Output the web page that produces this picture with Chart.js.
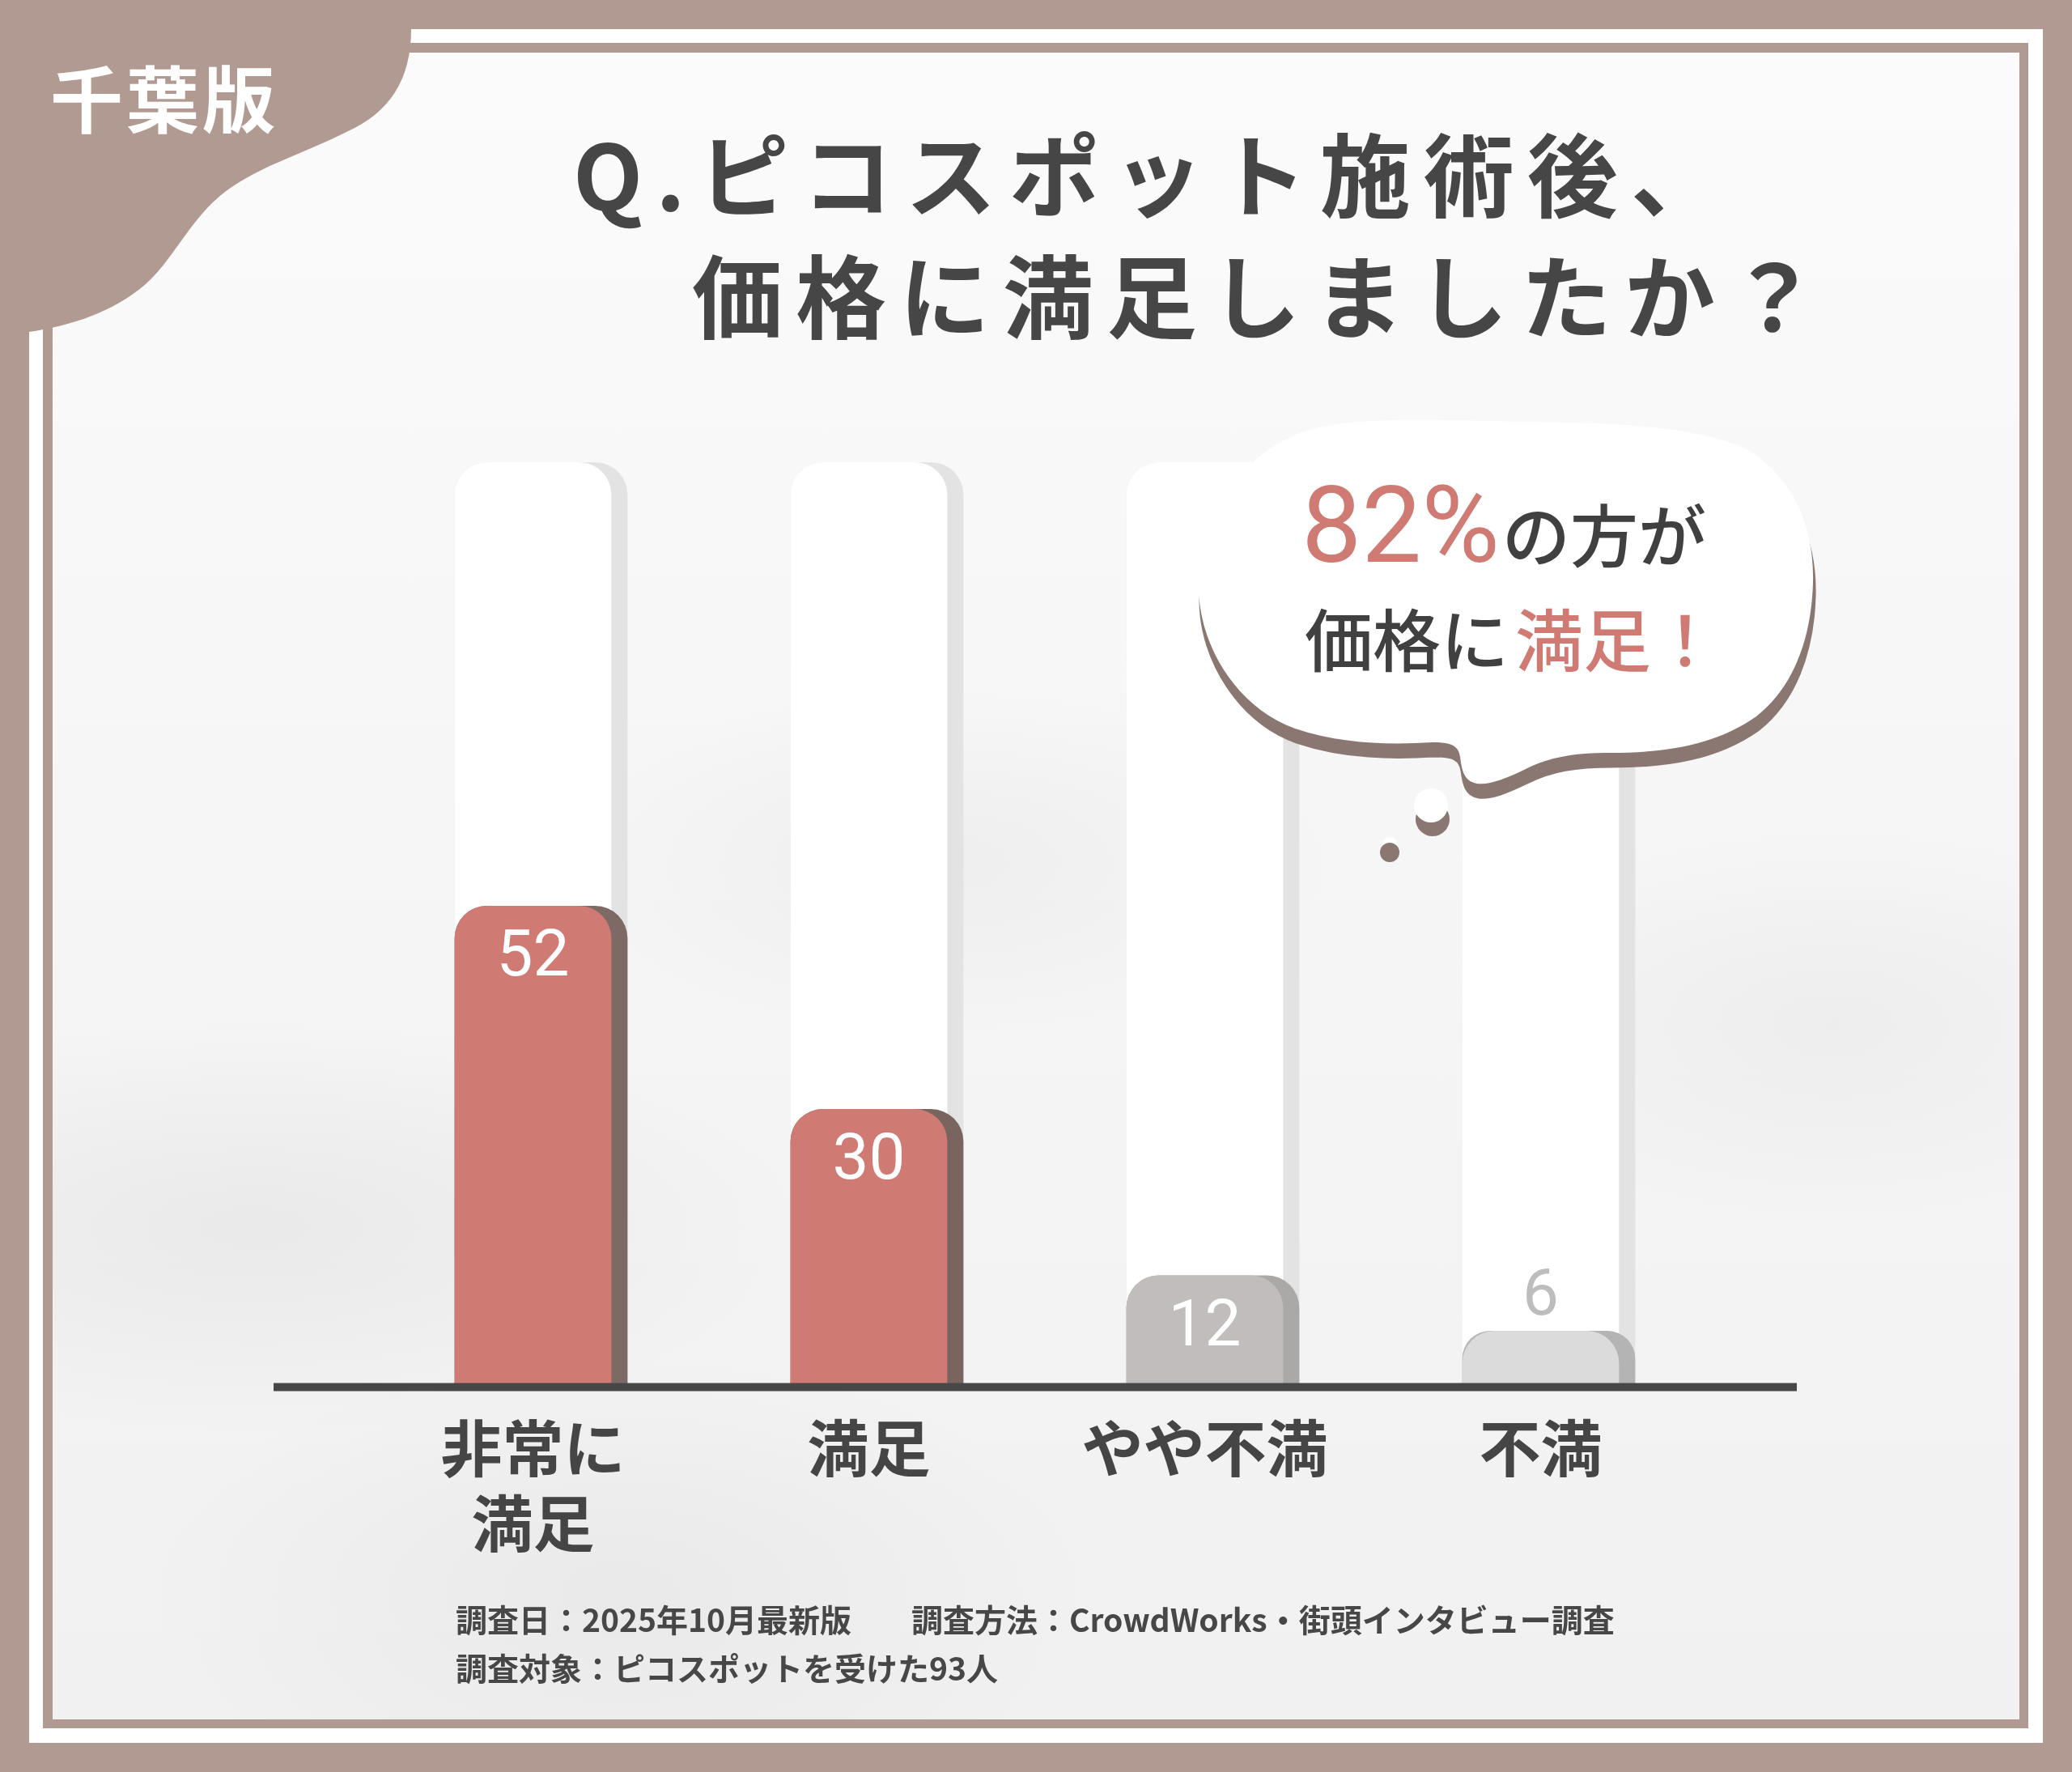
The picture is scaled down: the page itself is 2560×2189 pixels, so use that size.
<!DOCTYPE html>
<html lang="ja">
<head>
<meta charset="utf-8">
<title>ピコスポット施術後の価格満足度（千葉版）</title>
<script src="https://cdn.jsdelivr.net/npm/chart.js@4.4.1/dist/chart.umd.min.js"></script>
<style>
    html, body { margin: 0; padding: 0; }
    body {
        width: 2560px; height: 2189px; position: relative; overflow: hidden;
        background: #b19a91;
        font-family: "Noto Sans CJK JP", "Noto Sans", sans-serif;
    }
    .band  { position: absolute; left: 36px; top: 36px; width: 2488px; height: 2117px; background: #fff; }
    .line  { position: absolute; left: 53px; top: 53px; width: 2453px; height: 2082px; background: #b19a91; }
    .panel {
        position: absolute; left: 65px; top: 65px; width: 2430px; height: 2059px;
        background:
            radial-gradient(ellipse 700px 260px at 250px 1450px, rgba(0,0,0,0.045), transparent),
            radial-gradient(ellipse 500px 220px at 1100px 1000px, rgba(0,0,0,0.03), transparent),
            radial-gradient(ellipse 600px 300px at 700px 1900px, rgba(0,0,0,0.035), transparent),
            radial-gradient(ellipse 500px 250px at 2200px 1200px, rgba(0,0,0,0.03), transparent),
            linear-gradient(180deg, #fbfbfb 0%, #f6f6f6 45%, #f1f1f1 100%);
    }
    #chart { position: absolute; left: 0; top: 0; }
    #overlay { position: absolute; left: 0; top: 0; pointer-events: none; }
    .title { font-size: 112px; font-weight: 700; fill: #464646; letter-spacing: 16px; }
    .note { font-size: 39px; font-weight: 700; fill: #474747; }
</style>
</head>
<body>
<div class="band"></div>
<div class="line"></div>
<div class="panel"></div>
<canvas id="chart" width="2560" height="2189"></canvas>

<svg id="overlay" width="2560" height="2189" viewBox="0 0 2560 2189">
    <!-- 左上のラベル -->
    <path d="M0 0 H508 V36 C508 100 480 140 428 163 C380 188 320 205 278 237 C235 270 215 320 180 351 C140 385 90 402 36 410 L0 412 Z" fill="#b19a91"/>
    <text x="62" y="157" font-size="90" font-weight="700" fill="#ffffff" letter-spacing="4">千葉版</text>

    <text class="title" x="708" y="260">Q.ピコスポット施術後、</text>
    <text class="title" x="855" y="410">価格に満足しましたか？</text>

    <!-- 吹き出し -->
    <g>
        <path fill="#8b7771" stroke="#8b7771" stroke-width="3" transform="translate(2,17)"
              d="M1481 727 C1482 640 1530 560 1617 531 C1680 515 1760 518 1878 521 C1980 522 2100 525 2160 556 C2215 590 2242 650 2240 720 C2238 790 2215 850 2170 885 C2120 920 2060 930 1990 930 C1945 930 1915 935 1885 950 C1860 962 1840 970 1825 968 C1808 965 1806 950 1804 935 C1802 922 1795 917 1770 917 C1720 920 1660 920 1600 900 C1530 875 1482 800 1481 727 Z"/>
        <path fill="#ffffff"
              d="M1481 727 C1482 640 1530 560 1617 531 C1680 515 1760 518 1878 521 C1980 522 2100 525 2160 556 C2215 590 2242 650 2240 720 C2238 790 2215 850 2170 885 C2120 920 2060 930 1990 930 C1945 930 1915 935 1885 950 C1860 962 1840 970 1825 968 C1808 965 1806 950 1804 935 C1802 922 1795 917 1770 917 C1720 920 1660 920 1600 900 C1530 875 1482 800 1481 727 Z"/>
        <circle cx="1770" cy="1012" r="21" fill="#8b7771"/>
        <circle cx="1768" cy="995" r="21" fill="#ffffff"/>
        <circle cx="1717" cy="1044" r="10" fill="#ffffff"/>
        <circle cx="1717" cy="1053" r="12" fill="#8b7771"/>
    </g>
    <text x="1608" y="694">
        <tspan font-family="Liberation Sans Narrow, Roboto, sans-serif" font-size="132" fill="#cf7a73">82%</tspan><tspan x="1856" font-size="84" font-weight="500" fill="#404040">の方が</tspan>
    </text>
    <text x="1612" y="823" font-size="84" font-weight="500">
        <tspan fill="#404040">価格に</tspan><tspan x="1872" fill="#cf7a73">満足！</tspan>
    </text>

    <!-- 調査概要 -->
    <text class="note" x="563" y="2016">調査日：2025年10月最新版</text>
    <text class="note" x="1126" y="2016">調査方法：CrowdWorks・街頭インタビュー調査</text>
    <text class="note" x="563" y="2076">調査対象：ピコスポットを受けた93人</text>
</svg>

<script>
// データ
const categories = [['非常に', '満足'], '満足', 'やや不満', '不満'];
const responses = [52, 30, 12, 6];   // 回答の割合（%）
const scaleMax = 100;                // 後ろの白いバー = 100%

// 見た目
const faceColors = ['#cf7a73', '#cf7a73', '#c1bdbc', '#dcdbdb'];
const sideColors = ['#7e6a65', '#79645f', '#aaa9a8', '#b4b4b4'];
const valueColors = ['#ffffff', '#ffffff', '#ffffff', '#bdbdbd'];
const SIDE = 20;     // 右側の影の幅
const RADIUS = 40;

function topRoundRect(ctx, x, y, w, h, r) {
    ctx.beginPath();
    ctx.roundRect(x, y, w, h, [r, r, 0, 0]);
    ctx.fill();
}

// 後ろのバー・前面・数値・ベースライン
const barDecor = {
    id: 'barDecor',
    beforeDatasetsDraw(chart) {
        const { ctx, scales: { y } } = chart;
        const top = y.getPixelForValue(scaleMax);
        ctx.save();
        chart.getDatasetMeta(0).data.forEach(bar => {
            const left = bar.x - bar.width / 2;
            ctx.fillStyle = '#e3e3e3';
            topRoundRect(ctx, left, top, bar.width, bar.base - top, RADIUS);
            ctx.fillStyle = '#ffffff';
            topRoundRect(ctx, left, top, bar.width - SIDE, bar.base - top, RADIUS);
        });
        ctx.restore();
    },
    afterDatasetsDraw(chart) {
        const { ctx, chartArea } = chart;
        const meta = chart.getDatasetMeta(0);
        ctx.save();
        meta.data.forEach((bar, i) => {
            ctx.fillStyle = faceColors[i];
            topRoundRect(ctx, bar.x - bar.width / 2, bar.y, bar.width - SIDE, bar.base - bar.y, RADIUS);
        });

        const base = meta.data[0].base;
        ctx.strokeStyle = '#474747';
        ctx.lineWidth = 10;
        ctx.beginPath();
        ctx.moveTo(chartArea.left - 123, base + 1);
        ctx.lineTo(chartArea.right + 99, base + 1);
        ctx.stroke();

        ctx.font = '80px "Liberation Sans Narrow", Roboto, sans-serif';
        ctx.textAlign = 'center';
        ctx.textBaseline = 'middle';
        meta.data.forEach((bar, i) => {
            const inside = bar.base - bar.y > 100;
            ctx.fillStyle = valueColors[i];
            ctx.fillText(String(responses[i]), bar.x - SIDE / 2, inside ? bar.y + 66 : bar.y - 40);
        });
        ctx.restore();
    }
};

const ctx = document.getElementById('chart').getContext('2d');
new Chart(ctx, {
    type: 'bar',
    data: {
        labels: categories,
        datasets: [{
            data: responses,
            backgroundColor: sideColors,
            borderRadius: RADIUS,
            borderSkipped: 'bottom',
            barPercentage: 0.515,
            categoryPercentage: 1
        }]
    },
    options: {
        responsive: false,
        animation: false,
        devicePixelRatio: 1,
        layout: {
            padding: { left: 461, right: 439, top: 571, bottom: 231 }
        },
        scales: {
            y: { display: false, min: 0, max: scaleMax },
            x: {
                grid: { display: false, drawTicks: false },
                border: { display: false },
                ticks: {
                    color: '#454545',
                    padding: 30,
                    labelOffset: -10,
                    maxRotation: 0,
                    autoSkip: false,
                    font: { family: '"Noto Sans CJK JP", sans-serif', size: 76, weight: 'bold', lineHeight: 1.22 }
                }
            }
        },
        plugins: {
            legend: { display: false },
            tooltip: { enabled: false }
        }
    },
    plugins: [barDecor]
});
</script>
</body>
</html>
